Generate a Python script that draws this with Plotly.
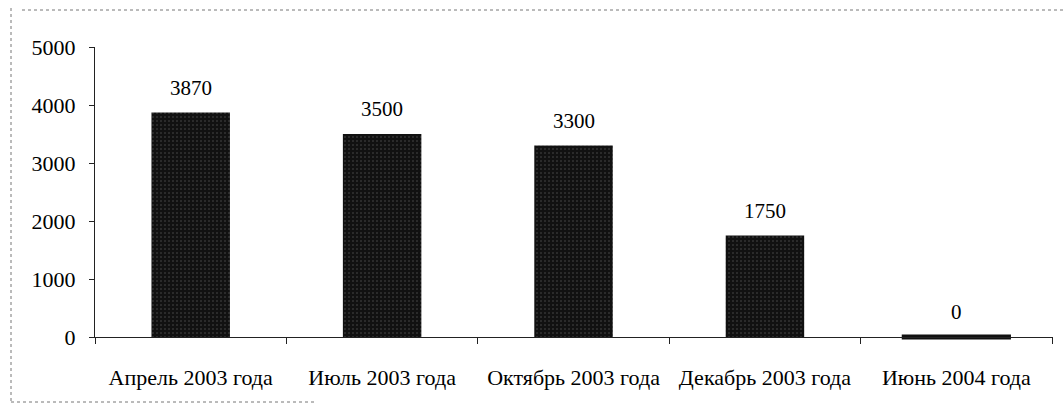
import plotly.graph_objects as go

categories = ["Апрель 2003 года", "Июль 2003 года", "Октябрь 2003 года", "Декабрь 2003 года", "Июнь 2004 года"]
values = [3870, 3500, 3300, 1750, 0]
value_labels = ["3870", "3500", "3300", "1750", "0"]
y_ticks = [0, 1000, 2000, 3000, 4000, 5000]

W, H = 1063, 413
FONT = "Liberation Serif, Times New Roman, serif"

fig = go.Figure()
fig.add_trace(go.Bar(
    x=categories, y=values, width=0.41,
    marker=dict(color="#111111", line=dict(width=0),
                pattern=dict(shape=".", fgcolor="#8a8a8a", bgcolor="#111111",
                             size=4, solidity=0.12)),
    showlegend=False, hoverinfo="x+y",
))
# thin mark for zero-valued bars (as drawn in the source)
zx = [c for c, v in zip(categories, values) if v == 0]
zy = [v for v in values if v == 0]
fig.add_trace(go.Scatter(
    x=zx, y=zy, mode="markers",
    marker=dict(symbol="line-ew", size=78, line=dict(width=5, color="#111111")),
    showlegend=False, hoverinfo="skip", cliponaxis=False,
))

for c, v, t in zip(categories, values, value_labels):
    fig.add_annotation(x=c, y=v, text=t, showarrow=False, yanchor="middle",
                       yshift=25, font=dict(family=FONT, size=21, color="#000000"))

# scanned page border fragments
PW = W - 95 - 10
PH = 337 - 47
line_style = dict(color="#777777", width=1, dash="dot")
fig.add_shape(type="line", xref="paper", yref="paper",
              x0=(22 - 95) / PW, x1=(1063 - 95) / PW,
              y0=(337 - 10) / PH, y1=(337 - 10) / PH, line=line_style)
fig.add_shape(type="line", xref="paper", yref="paper",
              x0=(11 - 95) / PW, x1=(11 - 95) / PW,
              y0=(337 - 8) / PH, y1=(337 - 402) / PH, line=line_style)
fig.add_shape(type="line", xref="paper", yref="paper",
              x0=(11 - 95) / PW, x1=(315 - 95) / PW,
              y0=(337 - 402) / PH, y1=(337 - 402) / PH, line=line_style)

fig.update_layout(
    width=W, height=H,
    margin=dict(l=95, r=10, t=47, b=76),
    paper_bgcolor="white", plot_bgcolor="white",
    bargap=0.59,
    font=dict(family=FONT, size=22, color="#000000"),
    xaxis=dict(type="category", showline=True, linecolor="#222222", linewidth=1,
               ticks="outside", tickson="boundaries", ticklen=6, tickcolor="#222222",
               showgrid=False, zeroline=False, ticklabelstandoff=21,
               tickfont=dict(family=FONT, size=22, color="#000000")),
    yaxis=dict(range=[0, 5000], tickvals=y_ticks, showline=True, linecolor="#222222",
               linewidth=1, ticks="outside", ticklen=5, tickcolor="#222222",
               showgrid=False, zeroline=False, ticklabelstandoff=9,
               tickfont=dict(family=FONT, size=22, color="#000000")),
)

fig.write_html("out.html", config={"displayModeBar": False},
               post_script="document.body.style.margin='0';")
